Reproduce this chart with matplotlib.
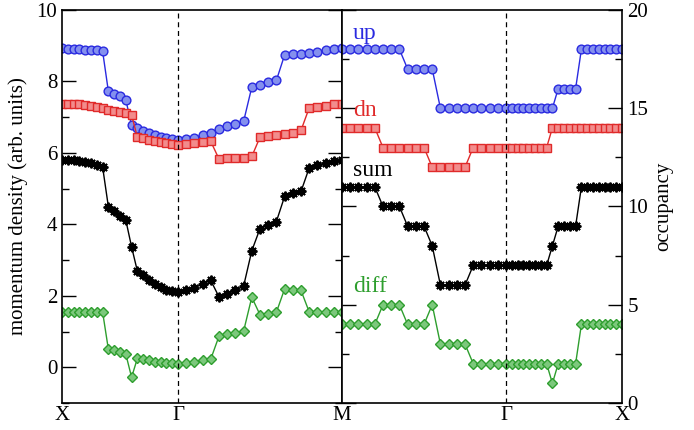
import numpy as np
import matplotlib
matplotlib.use("Agg")
import matplotlib.pyplot as plt
from matplotlib.ticker import MultipleLocator

plt.rcParams["font.family"] = ["Liberation Serif", "DejaVu Serif"]

# left panel: X -> Gamma (21 pts) then Gamma -> M (20 more pts), momentum density
up_left = [8.93, 8.92, 8.91, 8.90, 8.89, 8.88, 8.87, 8.85, 7.72, 7.65, 7.58, 7.49, 6.77, 6.70,
           6.62, 6.56, 6.49, 6.44, 6.41, 6.39, 6.37,
           6.39, 6.43, 6.50, 6.57, 6.67, 6.74, 6.80, 6.88, 7.84, 7.91, 7.98, 8.03, 8.74, 8.77,
           8.78, 8.81, 8.83, 8.88, 8.91, 8.93]
dn_left = [7.38, 7.38, 7.37, 7.36, 7.34, 7.32, 7.28, 7.26, 7.21, 7.18, 7.14, 7.12, 7.06, 6.44,
           6.42, 6.37, 6.32, 6.30, 6.28, 6.25, 6.23,
           6.26, 6.28, 6.30, 6.32, 5.83, 5.85, 5.86, 5.87, 5.90, 6.44, 6.48, 6.51, 6.54, 6.57,
           6.63, 7.26, 7.28, 7.32, 7.36, 7.38]
sum_left = [5.81, 5.81, 5.79, 5.77, 5.74, 5.72, 5.67, 5.61, 4.49, 4.38, 4.24, 4.12, 3.37, 2.69,
            2.57, 2.45, 2.34, 2.26, 2.17, 2.13, 2.10,
            2.15, 2.22, 2.33, 2.43, 1.97, 2.05, 2.15, 2.27, 3.26, 3.88, 3.97, 4.08, 4.78, 4.88,
            4.92, 5.58, 5.65, 5.72, 5.78, 5.81]
diff_left = [1.56, 1.56, 1.56, 1.55, 1.55, 1.55, 1.55, 1.55, 0.50, 0.47, 0.43, 0.37, -0.28, 0.25,
             0.22, 0.19, 0.16, 0.14, 0.13, 0.11, 0.10,
             0.12, 0.14, 0.19, 0.23, 0.87, 0.92, 0.96, 1.01, 1.96, 1.47, 1.50, 1.54, 2.19, 2.16,
             2.15, 1.55, 1.55, 1.55, 1.55, 1.55]

# right panel: M -> Gamma (21 pts) then Gamma -> X (20 more pts), occupancy
up_right = [18, 18, 18, 18, 18, 18, 18, 18, 17, 17, 17, 17, 15, 15, 15, 15, 15, 15, 15, 15, 15,
            15, 15, 15, 15, 15, 15, 15, 15, 16, 16, 16, 16, 18, 18, 18, 18, 18, 18, 18, 18]
dn_right = [14, 14, 14, 14, 14, 13, 13, 13, 13, 13, 13, 12, 12, 12, 12, 12, 13, 13, 13, 13, 13,
            13, 13, 13, 13, 13, 13, 13, 14, 14, 14, 14, 14, 14, 14, 14, 14, 14, 14, 14, 14]
sum_right = [11, 11, 11, 11, 11, 10, 10, 10, 9, 9, 9, 8, 6, 6, 6, 6, 7, 7, 7, 7, 7,
             7, 7, 7, 7, 7, 7, 7, 8, 9, 9, 9, 9, 11, 11, 11, 11, 11, 11, 11, 11]
diff_right = [4, 4, 4, 4, 4, 5, 5, 5, 4, 4, 4, 5, 3, 3, 3, 3, 2, 2, 2, 2, 2,
              2, 2, 2, 2, 2, 2, 2, 1, 2, 2, 2, 2, 4, 4, 4, 4, 4, 4, 4, 4]

# k-path: X-Gamma has length 1, Gamma-M length sqrt(2), 20 steps each
r2 = np.sqrt(2)
k_left = np.concatenate([np.linspace(0, 1, 21), 1 + np.linspace(0, r2, 21)[1:]])
k_right = np.concatenate([np.linspace(0, r2, 21), r2 + np.linspace(0, 1, 21)[1:]])
kmax = 1 + r2

BLUE, RED, BLACK, GREEN = "#2a2ae0", "#e02a2a", "black", "#2e9e2e"
styles = [
    dict(color=BLUE, marker="o", ms=6.3, mfc="#8490ee", mec=BLUE, mew=1.0),
    dict(color=RED, marker="s", ms=5.8, mfc="#f28c8c", mec=RED, mew=1.0),
    dict(color=BLACK, marker=(8, 2, 0), ms=7, mec=BLACK, mew=1.4),
    dict(color=GREEN, marker="D", ms=5.2, mfc="#7cc87c", mec=GREEN, mew=1.0),
]

fig = plt.figure(figsize=(6.94, 4.30), dpi=100)
W, H = 694, 430
bottom = (H - 403) / H
height = 393 / H
ax1 = fig.add_axes([62 / W, bottom, 280 / W, height])
ax2 = fig.add_axes([342 / W, bottom, 280 / W, height])

for ys, st in zip([up_left, dn_left, sum_left, diff_left], styles):
    ax1.plot(k_left, ys, lw=1.0, **st)
for ys, st in zip([up_right, dn_right, sum_right, diff_right], styles):
    ax2.plot(k_right, ys, lw=1.0, **st)

ax1.set_xlim(0, kmax)
ax1.set_ylim(-1, 10)
ax2.set_xlim(0, kmax)
ax2.set_ylim(0, 20)

ax1.axvline(1, color="black", ls=(0, (4, 3)), lw=0.9)
ax2.axvline(r2, color="black", ls=(0, (4, 3)), lw=0.9)

ax1.yaxis.set_major_locator(MultipleLocator(2))
ax1.yaxis.set_minor_locator(MultipleLocator(1))
ax2.yaxis.set_major_locator(MultipleLocator(5))
ax2.yaxis.set_minor_locator(MultipleLocator(2.5))

ax1.set_xticks([0, 1, kmax])
ax1.set_xticklabels(["X", "Γ", "M"])
ax2.set_xticks([r2, kmax])
ax2.set_xticklabels(["Γ", "X"])

for ax in (ax1, ax2):
    ax.tick_params(axis="y", which="both", direction="in", left=True, right=True,
                   labelsize=15)
    ax.tick_params(axis="y", which="major", length=10, width=1.0)
    ax.tick_params(axis="y", which="minor", length=5, width=1.0)
    ax.tick_params(axis="x", length=0, labelsize=15, pad=2)
    for sp in ax.spines.values():
        sp.set_linewidth(1.2)

ax1.tick_params(axis="y", labelleft=True, labelright=False)
ax2.tick_params(axis="y", labelleft=False, labelright=True, pad=4)

ax1.set_ylabel("momentum density (arb. units)", fontsize=15, labelpad=6)
ax2.yaxis.set_label_position("right")
ax2.set_ylabel("occupancy", fontsize=15, labelpad=4)

tx = (353 - 342) / 280
for label, ypix, col in [("up", 33, BLUE), ("dn", 110, RED), ("sum", 170, BLACK),
                         ("diff", 287, GREEN)]:
    ax2.text(tx, (403 - ypix) / 393, label, color=col, fontsize=17,
             transform=ax2.transAxes, ha="left", va="center")

fig.savefig("out.png", dpi=100)
